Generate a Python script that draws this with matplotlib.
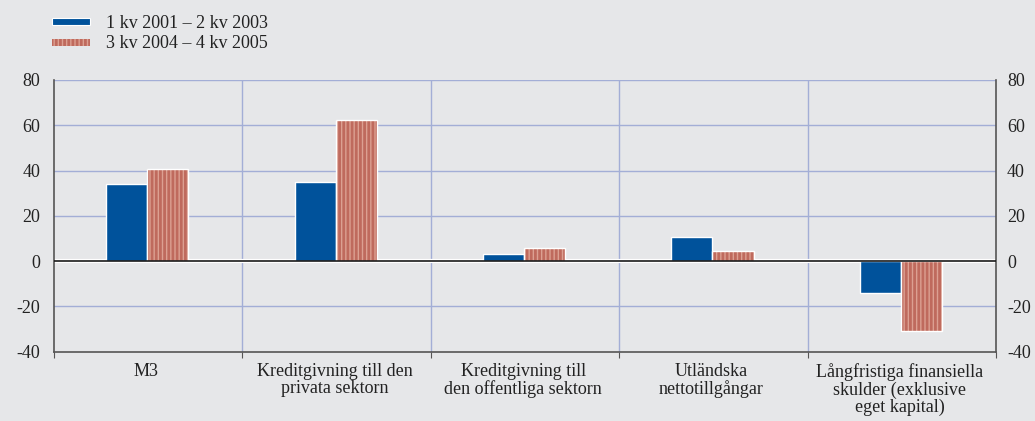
import matplotlib
matplotlib.use("Agg")
import matplotlib.pyplot as plt
import numpy as np
from matplotlib.patches import Rectangle

categories = ["M3", "Kreditgivning till den\nprivata sektorn", "Kreditgivning till\nden offentliga sektorn",
              "Utländska\nnettotillgångar", "Långfristiga finansiella\nskulder (exklusive\neget kapital)"]
series1_label = "1 kv 2001 – 2 kv 2003"
series2_label = "3 kv 2004 – 4 kv 2005"
series1 = [34.0, 35.0, 3.2, 10.4, -14.3]
series2 = [40.7, 62.3, 5.9, 4.4, -31.0]
yticks = [-40, -20, 0, 20, 40, 60, 80]

plt.rcParams['font.family'] = ['Liberation Serif', 'DejaVu Serif']
plt.rcParams['axes.unicode_minus'] = False
plt.rcParams['hatch.linewidth'] = 2.0

bg = '#e6e7e9'
blue = '#00529b'
red_light = '#dca092'
red_dark = '#bf6a5d'
grid_c = '#a3aed6'
txt = '#222222'
fs = 13

fig = plt.figure(figsize=(10.35, 4.21), dpi=100, facecolor=bg)
ax = fig.add_axes([54/1035, 1-351.5/421, (996-54)/1035, (351.5-80)/421])
ax.set_facecolor(bg)

n = len(categories)
x = np.arange(n) + 0.5 - 0.005
w = 0.218
off = 0.109

ax.set_xlim(0, n)
ax.set_ylim(-40, 80)

# grid
for yv in yticks:
    if yv not in (0, -40):
        ax.axhline(yv, color=grid_c, lw=1, zorder=1)
for b in range(1, n):
    ax.axvline(b, color=grid_c, lw=1, zorder=1)
ax.axhline(0, color='white', lw=3, zorder=2)
ax.axhline(0, color='#1a1a1a', lw=1.2, zorder=4)

ax.bar(x - off, series1, w, color=blue, edgecolor='white', lw=1, zorder=3)
ax.bar(x + off, series2, w, color=red_light, edgecolor=red_dark, lw=0, hatch='||||', zorder=3)
ax.bar(x + off, series2, w, fill=False, edgecolor='white', lw=1, zorder=3)

ax.spines['top'].set_visible(False)
for s in ['left', 'right', 'bottom']:
    ax.spines[s].set_color('#555555')
    ax.spines[s].set_linewidth(1.2)

ax.set_yticks(yticks)
ax.set_yticklabels([str(v) for v in yticks])
ax.tick_params(axis='y', length=0, labelsize=fs, pad=10, colors=txt, left=False, right=False)

ax2 = ax.twinx()
ax2.set_ylim(-40, 80)
ax2.set_yticks(yticks)
ax2.set_yticklabels([str(v) for v in yticks])
ax2.tick_params(axis='y', length=0, labelsize=fs, pad=8, colors=txt)
for s in ['top', 'left', 'bottom', 'right']:
    ax2.spines[s].set_visible(False)

ax.set_xticks(range(0, n + 1))
ax.set_xticklabels([])
ax.tick_params(axis='x', length=4, direction='out', color='#555555')

for xi, lab in zip(np.arange(n) + 0.5 - 0.01, categories):
    ax.text(xi, -45.3, lab, ha='center', va='top', fontsize=fs, color=txt,
            linespacing=1.0, clip_on=False)

# legend
fig.patches.append(Rectangle((52/1035, 1-25/421), 38/1035, 7/421, transform=fig.transFigure,
                             facecolor=blue, edgecolor='white', lw=0.8))
fig.patches.append(Rectangle((52/1035, 1-46/421), 38/1035, 7/421, transform=fig.transFigure,
                             facecolor=red_light, edgecolor=red_dark, lw=0, hatch='||||'))
fig.text(106/1035, 1-23/421, series1_label, ha='left', va='center', fontsize=fs, color=txt)
fig.text(106/1035, 1-44/421, series2_label, ha='left', va='center', fontsize=fs, color=txt)

fig.savefig('out.png', dpi=100, facecolor=bg)
